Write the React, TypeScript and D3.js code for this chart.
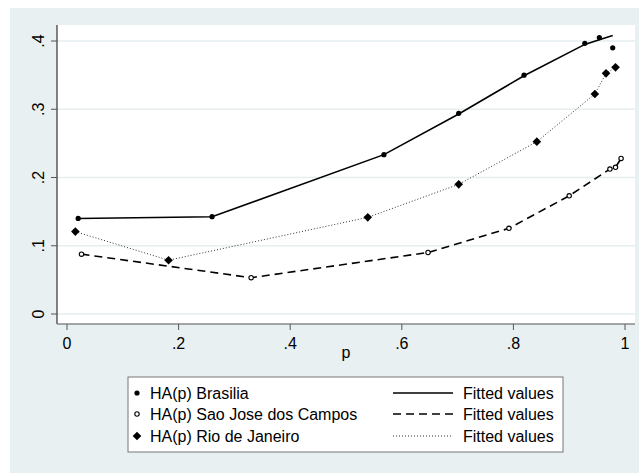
import React from "react";
import * as d3 from "d3";

// Data
const brasiliaP = [0.02, 0.26, 0.568, 0.702, 0.819, 0.928, 0.954, 0.978];
const brasiliaHA = [0.14, 0.1426, 0.2335, 0.294, 0.35, 0.3966, 0.405, 0.39];
const brasiliaFit = [0.14, 0.1426, 0.2335, 0.293, 0.349, 0.395, 0.402, 0.408];

const sjcP = [0.026, 0.33, 0.647, 0.792, 0.9, 0.973, 0.983, 0.993];
const sjcHA = [0.0877, 0.0532, 0.0901, 0.1255, 0.1732, 0.2124, 0.2149, 0.228];
const sjcFit = [0.0877, 0.0532, 0.0901, 0.1255, 0.1732, 0.2124, 0.2149, 0.228];

const rioP = [0.015, 0.182, 0.539, 0.702, 0.842, 0.946, 0.966, 0.983];
const rioHA = [0.1207, 0.0788, 0.1416, 0.19, 0.2525, 0.3223, 0.3526, 0.3614];
const rioFit = [0.1207, 0.0788, 0.1416, 0.19, 0.2525, 0.3223, 0.3526, 0.3614];

const xTicks = [0, 0.2, 0.4, 0.6, 0.8, 1];
const xTickLabels = ["0", ".2", ".4", ".6", ".8", "1"];
const yTicks = [0, 0.1, 0.2, 0.3, 0.4];
const yTickLabels = ["0", ".1", ".2", ".3", ".4"];

const legendMarkerLabels = ["HA(p) Brasilia", "HA(p) Sao Jose dos Campos", "HA(p) Rio de Janeiro"];
const legendLineLabels = ["Fitted values", "Fitted values", "Fitted values"];
const xTitle = "p";

const BG = "#e8f0f2";
const GRID = "#e6eef0";
const FONT = "'Liberation Sans', Arial, sans-serif";

export default function App() {
  const x = d3.scaleLinear().domain([0, 1]).range([67, 625]);
  const y = d3.scaleLinear().domain([0, 0.4]).range([314, 41]);
  const plot = { left: 57, right: 635, top: 25, bottom: 324 };

  const line = d3
    .line<[number, number]>()
    .x((d) => x(d[0]))
    .y((d) => y(d[1]));

  const zip = (a: number[], b: number[]) => a.map((v, i) => [v, b[i]] as [number, number]);

  const diamond = (cx: number, cy: number, r: number) =>
    `M${cx},${cy - r}L${cx + r},${cy}L${cx},${cy + r}L${cx - r},${cy}Z`;

  const legendRows = [393, 414, 436];

  return (
    <svg
      width={639}
      height={473}
      style={{ position: "absolute", left: 0, top: 0 }}
      fontFamily={FONT}
    >
      <rect x={10} y={8} width={629} height={465} fill={BG} />
      <rect
        x={plot.left}
        y={plot.top}
        width={plot.right - plot.left}
        height={plot.bottom - plot.top}
        fill="#ffffff"
      />
      {/* gridlines */}
      {yTicks.map((t) => (
        <line
          key={"g" + t}
          x1={plot.left}
          x2={plot.right}
          y1={y(t)}
          y2={y(t)}
          stroke={GRID}
          strokeWidth={1.5}
        />
      ))}
      {/* axes */}
      <line x1={plot.left} x2={plot.left} y1={plot.top} y2={plot.bottom} stroke="#333" strokeWidth={1.2} />
      <line x1={plot.left} x2={plot.right} y1={plot.bottom} y2={plot.bottom} stroke="#888" strokeWidth={1.6} />
      {yTicks.map((t, i) => (
        <g key={"yt" + t}>
          <line x1={51} x2={plot.left} y1={y(t)} y2={y(t)} stroke="#555" strokeWidth={1} />
          <text
            transform={`translate(44,${y(t)}) rotate(-90)`}
            textAnchor="middle"
            fontSize={16}
            fill="#000"
          >
            {yTickLabels[i]}
          </text>
        </g>
      ))}
      {xTicks.map((t, i) => (
        <g key={"xt" + t}>
          <line x1={x(t)} x2={x(t)} y1={plot.bottom} y2={330} stroke="#555" strokeWidth={1} />
          <text x={x(t)} y={349} textAnchor="middle" fontSize={16} fill="#000">
            {xTickLabels[i]}
          </text>
        </g>
      ))}
      <text x={(plot.left + plot.right) / 2} y={358} textAnchor="middle" fontSize={16} fill="#000">
        {xTitle}
      </text>

      {/* fitted lines */}
      <path d={line(zip(brasiliaP, brasiliaFit)) || ""} fill="none" stroke="#000" strokeWidth={1.6} />
      <path
        d={line(zip(sjcP, sjcFit)) || ""}
        fill="none"
        stroke="#000"
        strokeWidth={1.6}
        strokeDasharray="8 5"
      />
      <path
        d={line(zip(rioP, rioFit)) || ""}
        fill="none"
        stroke="#333"
        strokeWidth={1}
        strokeDasharray="1 2"
      />

      {/* markers */}
      {brasiliaP.map((p, i) => (
        <circle key={"b" + i} cx={x(p)} cy={y(brasiliaHA[i])} r={2.6} fill="#000" />
      ))}
      {sjcP.map((p, i) => (
        <circle
          key={"s" + i}
          cx={x(p)}
          cy={y(sjcHA[i])}
          r={2.2}
          fill="#fff"
          stroke="#000"
          strokeWidth={1.1}
        />
      ))}
      {rioP.map((p, i) => (
        <path key={"r" + i} d={diamond(x(p), y(rioHA[i]), 4.3)} fill="#000" />
      ))}

      {/* legend */}
      <rect x={128} y={377} width={435} height={75} fill="#fff" stroke="#777" strokeWidth={1} />
      <circle cx={137} cy={legendRows[0]} r={2.6} fill="#000" />
      <circle cx={137} cy={legendRows[1]} r={2.2} fill="#fff" stroke="#000" strokeWidth={1.1} />
      <path d={diamond(137, legendRows[2], 4.3)} fill="#000" />
      {legendMarkerLabels.map((l, i) => (
        <text key={"lm" + i} x={150} y={legendRows[i] + 6} fontSize={16} fill="#000">
          {l}
        </text>
      ))}
      <line x1={393} x2={453} y1={legendRows[0]} y2={legendRows[0]} stroke="#000" strokeWidth={1.6} />
      <line
        x1={393}
        x2={453}
        y1={legendRows[1]}
        y2={legendRows[1]}
        stroke="#000"
        strokeWidth={1.6}
        strokeDasharray="8 5"
      />
      <line
        x1={393}
        x2={453}
        y1={legendRows[2]}
        y2={legendRows[2]}
        stroke="#333"
        strokeWidth={1}
        strokeDasharray="1 2"
      />
      {legendLineLabels.map((l, i) => (
        <text key={"ll" + i} x={463} y={legendRows[i] + 6} fontSize={16} fill="#000">
          {l}
        </text>
      ))}
    </svg>
  );
}
